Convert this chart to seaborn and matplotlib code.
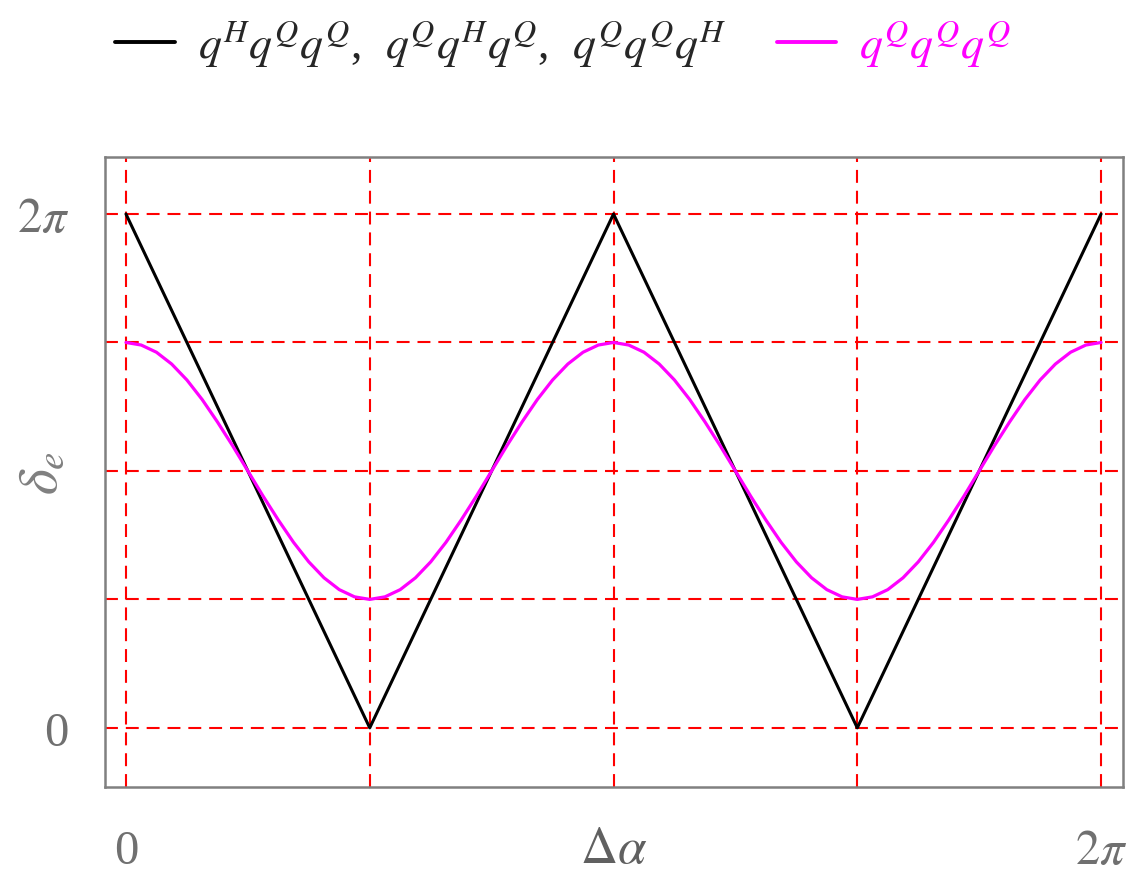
import matplotlib.pyplot as plt
import seaborn as sns
import numpy as np
import pandas as pd

# x and y values in units of pi
x_black = [0.0, 0.5, 1.0, 1.5, 2.0]
y_black = [2.0, 0.0, 2.0, 0.0, 2.0]

x_mag = [k / 32 for k in range(65)]
y_mag = [1.5, 1.490, 1.462, 1.416, 1.354, 1.278, 1.191, 1.098, 1.0, 0.902, 0.809, 0.722, 0.646, 0.584, 0.538, 0.510, 0.5,
         0.510, 0.538, 0.584, 0.646, 0.722, 0.809, 0.902, 1.0, 1.098, 1.191, 1.278, 1.354, 1.416, 1.462, 1.490, 1.5,
         1.490, 1.462, 1.416, 1.354, 1.278, 1.191, 1.098, 1.0, 0.902, 0.809, 0.722, 0.646, 0.584, 0.538, 0.510, 0.5,
         0.510, 0.538, 0.584, 0.646, 0.722, 0.809, 0.902, 1.0, 1.098, 1.191, 1.278, 1.354, 1.416, 1.462, 1.490, 1.5]

grid_pos = [0.0, 0.5, 1.0, 1.5, 2.0]
x_ticklabels = ["0", "", "", "", r"$2\pi$"]
y_ticklabels = ["0", "", "", "", r"$2\pi$"]

label_black = r"$q^Hq^Qq^Q$,  $q^Qq^Hq^Q$,  $q^Qq^Qq^H$"
label_mag = r"$q^Qq^Qq^Q$"

sns.set_style("white")
plt.rcParams["font.family"] = ["Liberation Serif", "DejaVu Serif"]
plt.rcParams["mathtext.fontset"] = "stix"

fig = plt.figure(figsize=(11.4, 8.95), dpi=100)
ax = fig.add_axes([0.0921, 0.1196, 0.8930, 0.7039])

df_black = pd.DataFrame({"x": x_black, "y": y_black})
df_mag = pd.DataFrame({"x": x_mag, "y": y_mag})

sns.lineplot(data=df_black, x="x", y="y", color="black", lw=2.2, ax=ax, label=label_black, zorder=3)
sns.lineplot(data=df_mag, x="x", y="y", color="#ff00ff", lw=2.3, ax=ax, label=label_mag, zorder=3)

for p in grid_pos:
    ax.axvline(p, color="red", ls=(0, (6.2, 3.8)), lw=1.5, zorder=1)
    ax.axhline(p, color="red", ls=(0, (6.2, 3.8)), lw=1.5, zorder=1)

ax.set_xlim(-0.043, 2.045)
ax.set_ylim(-0.23, 2.222)
ax.set_xticks(grid_pos)
ax.set_xticklabels(x_ticklabels)
ax.set_yticks(grid_pos)
ax.set_yticklabels(y_ticklabels)
ax.tick_params(length=0, labelsize=35, labelcolor="#707070")
ax.tick_params(axis="y", pad=26)
ax.tick_params(axis="x", pad=30)

for s in ax.spines.values():
    s.set_color("#808080")
    s.set_linewidth(1.8)

ax.set_xlabel(r"$\Delta\alpha$", fontsize=37, color="#606060")
ax.xaxis.set_label_coords(0.5, -0.062)
ax.set_ylabel(r"$\delta_e$", fontsize=40, color="#808080", va="center", ha="center")
ax.yaxis.set_label_coords(-0.061, 0.5)

ax.get_legend().remove()
handles, labels = ax.get_legend_handles_labels()
leg = fig.legend(handles, labels, loc="upper left", bbox_to_anchor=(0.065, 1.024), ncol=2,
                 frameon=False, fontsize=33, handlelength=1.3, columnspacing=1.1, handletextpad=0.5)
for h in leg.legend_handles:
    h.set_linewidth(2.8)
leg.get_texts()[1].set_color("#ff00ff")

fig.savefig("out.png", dpi=100)
